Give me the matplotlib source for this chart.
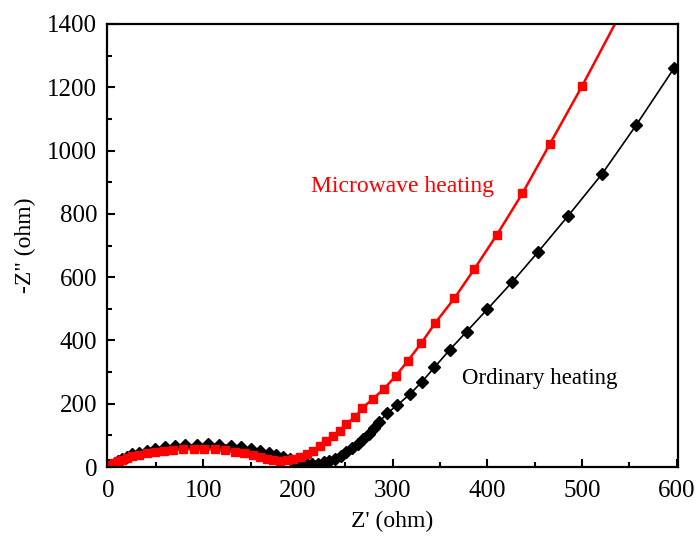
import numpy as np
import matplotlib.pyplot as plt
from matplotlib.ticker import MultipleLocator

plt.rcParams['font.family'] = ['Liberation Serif', 'DejaVu Serif']

# Ordinary heating (Z', -Z'')
ord_x = [2, 4, 7, 10, 14, 19, 25, 32, 40, 49, 59, 70, 81, 93, 105, 117, 129,
         140, 150, 160, 169, 177, 184, 191, 197, 203, 209, 215, 221, 227, 233,
         239, 245, 251, 257, 263, 269, 275, 280, 286, 294, 305, 318, 331, 344,
         360, 378, 400, 426, 453, 485, 521, 557, 597]
ord_y = [2, 8, 14, 20, 26, 33, 40, 46, 52, 57, 62, 66, 69, 71, 72, 71, 68,
         63, 58, 52, 45, 38, 31, 24, 17, 12, 9, 9, 11, 15, 20,
         27, 36, 47, 59, 73, 89, 106, 124, 143, 170, 196, 230, 270, 315,
         370, 428, 499, 584, 678, 793, 926, 1080, 1260]

# Microwave heating (Z', -Z'')
mw_x = [1, 3, 6, 10, 14, 19, 25, 32, 40, 49, 58, 68, 79, 90, 101, 112, 123,
        133, 143, 152, 160, 167, 174, 181, 188, 195, 202, 209, 216, 223, 230,
        237, 244, 251, 260, 268, 279, 291, 303, 316, 330, 345, 365, 386, 410,
        437, 466, 500, 540]
mw_y = [1, 6, 12, 18, 23, 29, 34, 39, 44, 48, 51, 54, 56, 57, 57, 56, 53,
        49, 44, 38, 32, 26, 22, 20, 21, 25, 31, 40, 51, 67, 83,
        98, 115, 137, 157, 187, 215, 248, 287, 336, 391, 456, 533, 625, 734,
        865, 1021, 1204, 1430]

fig = plt.figure(figsize=(6.98, 5.45), dpi=100)
ax = fig.add_axes([0.153, 0.143, 0.818, 0.813])

ax.plot(ord_x, ord_y, color='black', lw=1.2, marker='D', ms=6.5, mec='black', mfc='black')
ax.plot(mw_x, mw_y, color='red', lw=1.8, marker='s', ms=6, mec='red', mfc='red')

ax.set_xlim(-2, 601)
ax.set_ylim(0, 1400)
ax.xaxis.set_major_locator(MultipleLocator(100))
ax.xaxis.set_minor_locator(MultipleLocator(50))
ax.yaxis.set_major_locator(MultipleLocator(200))
ax.yaxis.set_minor_locator(MultipleLocator(100))
ax.tick_params(which='both', direction='in', top=False, right=False, width=1.5, labelsize=18)
ax.tick_params(which='major', length=6)
ax.tick_params(which='minor', length=3.5)
ax.tick_params(axis='x', pad=9)
ax.tick_params(axis='y', pad=7)
for s in ax.spines.values():
    s.set_linewidth(1.6)

ax.set_xlabel("Z' (ohm)", fontsize=17, labelpad=7)
ax.set_ylabel('-Z" (ohm)', fontsize=17, labelpad=8)

ax.text(310, 885, 'Microwave heating', color='red', fontsize=17, ha='center', va='center')
ax.text(455, 281, 'Ordinary heating', color='black', fontsize=16.5, ha='center', va='center')

fig.savefig('out.png', dpi=100)
